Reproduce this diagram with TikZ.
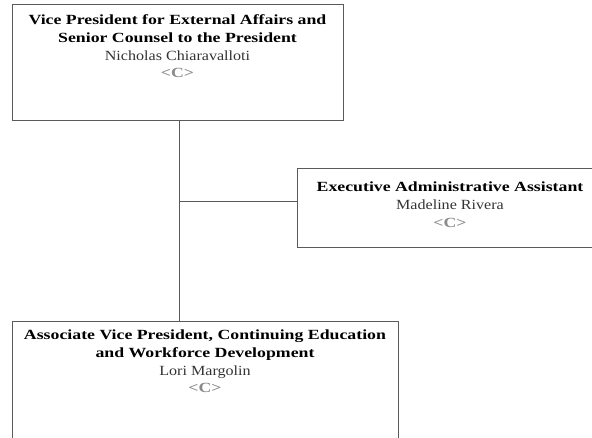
\documentclass[tikz,border=0pt]{standalone}
\usepackage{fontspec}
\setmainfont[FakeStretch=1.15,BoldFeatures={FakeStretch=1.27}]{Liberation Serif}
\usetikzlibrary{calc}
\definecolor{boxline}{HTML}{5A5A5A}
\definecolor{namegray}{HTML}{333333}
\definecolor{codegray}{HTML}{8A8A8A}

\begin{document}
\begin{tikzpicture}[x=1pt,y=-1pt,
  orgbox/.style={draw=boxline,line width=1pt,inner sep=0pt},
  orgtext/.style={anchor=north,inner sep=0pt,align=center,font=\fontsize{14}{17.8}\selectfont},
  link/.style={draw=boxline,line width=1pt}]
  \useasboundingbox (0,0) rectangle (592,438);
  \clip (0,0) rectangle (592,438);
  % boxes
  \node[orgbox,minimum width=331pt,minimum height=116pt] (vp) at (177.5,63) {};
  \node[orgbox,minimum width=306pt,minimum height=79pt] (asst) at (450,208.5) {};
  \node[orgbox,minimum width=386pt,minimum height=123pt] (avp) at (205,383.5) {};
  % texts
  \node[orgtext,yshift=-10pt] (vptext) at (vp.north)
    {\textbf{Vice President for External Affairs and}\\
     \textbf{Senior Counsel to the President}\\
     \textcolor{namegray}{Nicholas Chiaravalloti}\\
     \textcolor{codegray}{\textbf{<C>}}};
  \node[orgtext,yshift=-13pt] (assttext) at (asst.north)
    {\textbf{Executive Administrative Assistant}\\
     \textcolor{namegray}{Madeline Rivera}\\
     \textcolor{codegray}{\textbf{<C>}}};
  \node[orgtext,yshift=-8pt] (avptext) at (avp.north)
    {\textbf{Associate Vice President, Continuing Education}\\
     \textbf{and Workforce Development}\\
     \textcolor{namegray}{Lori Margolin}\\
     \textcolor{codegray}{\textbf{<C>}}};
  % connectors
  \coordinate (trunk) at ($(vp.south)+(1.5,0)$);
  \coordinate (junc) at ($(trunk)+(0,80)$);
  \draw[link] (trunk) -- (trunk |- avp.north);
  \draw[link] (junc) -- (junc -| asst.west);
\end{tikzpicture}
\end{document}
